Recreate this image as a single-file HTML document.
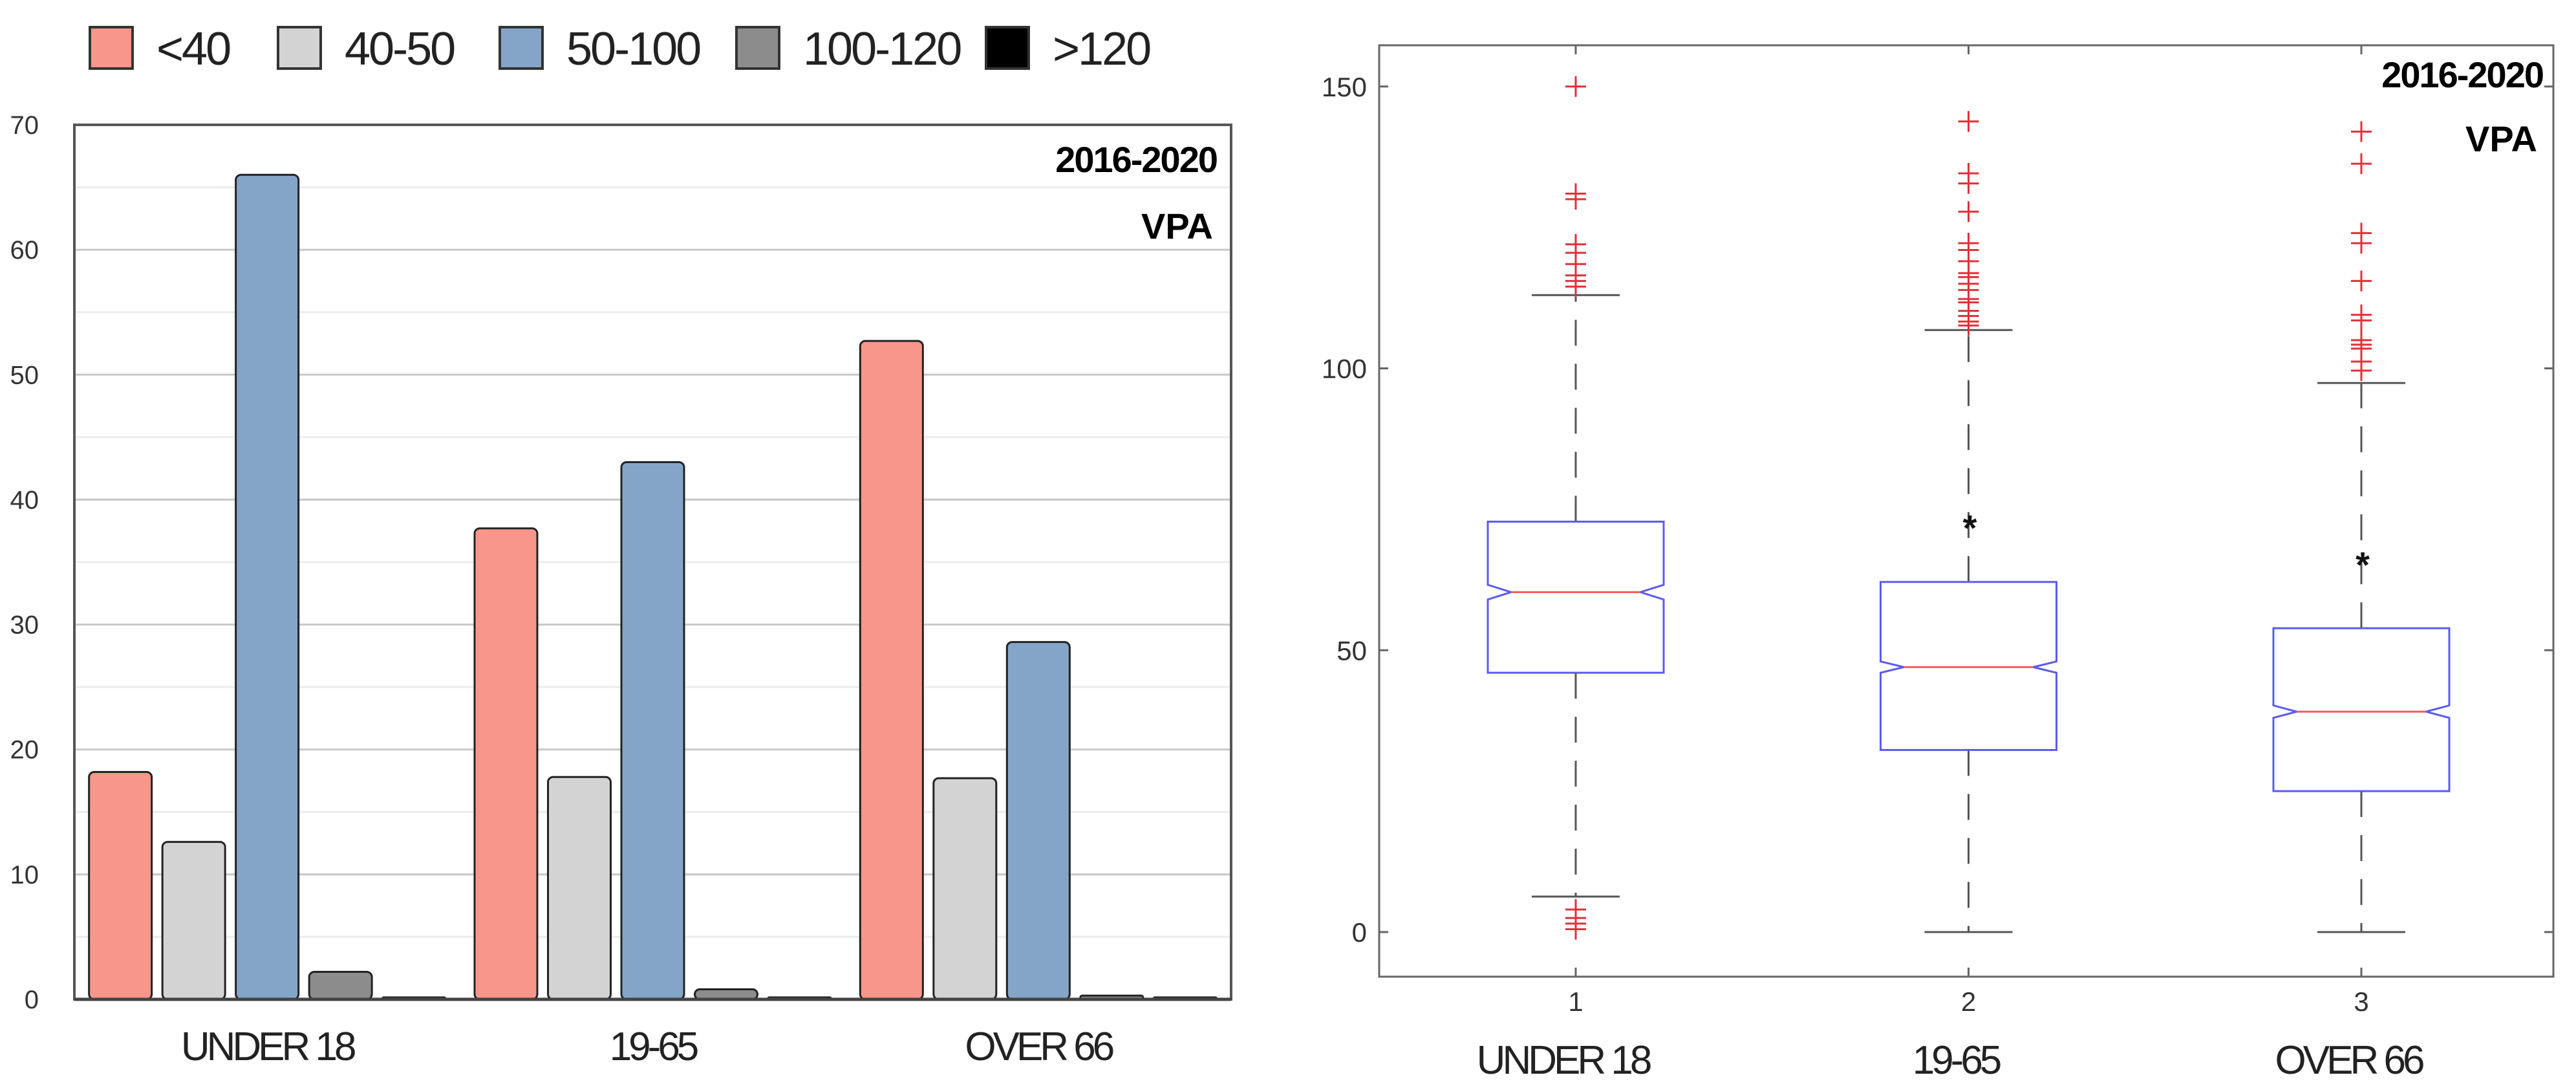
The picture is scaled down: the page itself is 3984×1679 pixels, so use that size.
<!DOCTYPE html>
<html><head><meta charset="utf-8"><style>
html,body{margin:0;padding:0;background:#fff;}
svg{display:block;font-family:"Liberation Sans",sans-serif;}
</style></head><body>
<svg id="fig" width="3984" height="1679" viewBox="0 0 3984 1679" xmlns="http://www.w3.org/2000/svg">
<g id="left"></g>
<g id="right"></g>
</svg>
<script>
// ---- Left chart data ----
const barCategories = ["UNDER 18", "19-65", "OVER 66"];
const seriesNames = ["<40", "40-50", "50-100", "100-120", ">120"];
const seriesLt40 = [18.2, 37.7, 52.7];
const series40to50 = [12.6, 17.8, 17.7];
const series50to100 = [66, 43, 28.6];
const series100to120 = [2.2, 0.8, 0.3];
const seriesGt120 = [0.1, 0.1, 0.1];
const barTicks = [0, 10, 20, 30, 40, 50, 60, 70];

// ---- Right chart data ----
const boxCategories = ["UNDER 18", "19-65", "OVER 66"];
const boxTickLabels = ["1", "2", "3"];
const boxQ1 = [46, 32.3, 25];
const boxMedian = [60.3, 47, 39.1];
const boxQ3 = [72.8, 62.1, 53.9];
const boxWhiskLow = [6.3, 0, 0];
const boxWhiskHigh = [113, 106.8, 97.4];
const boxNotchLow = [59, 46, 38];
const boxNotchHigh = [61.6, 48, 40.2];
const outliers1 = [150, 131, 130, 122, 120.5, 118.5, 116.5, 115.5, 114.5, 4, 2.5, 1.5, 0.5];
const outliers2 = [143.8, 134.6, 132.8, 127.8, 122.2, 121, 119, 116.9, 116.2, 115, 113.9, 112.3, 111.7, 110.2, 109.3, 108.3, 107.6];
const outliers3 = [142, 136.3, 124, 122.2, 115.5, 109.5, 108.5, 105, 104.2, 103.5, 101.2, 99.6];
const starValues = [null, 72.9, 66.4];
const boxTicks = [0, 50, 100, 150];

const NS = "http://www.w3.org/2000/svg";
function mk(parent, tag, attrs, text) {
  const e = document.createElementNS(NS, tag);
  for (const k in attrs) e.setAttribute(k, attrs[k]);
  if (text !== undefined) e.textContent = text;
  parent.appendChild(e);
  return e;
}

// ===== LEFT =====
(function(){
  const g = document.getElementById("left");
  const L = 115, R = 1904, T = 193, B = 1545;
  const yMax = 70;
  const y = v => B - (v / yMax) * (B - T);
  const groupW = (R - L) / 3;
  const barW = 97, step = 113.5;
  const xBar = (gi, si) => L + groupW * gi + groupW / 2 + (si - 2) * step - barW / 2;
  const colors = ["#f8968a", "#d3d3d3", "#84a5c7", "#8c8c8c", "#000000"];
  const allSeries = [seriesLt40, series40to50, series50to100, series100to120, seriesGt120];

  for (let v = 5; v < yMax; v += 5) {
    const gl = mk(g, "line", {x1: L, x2: R, y1: y(v), y2: y(v), stroke: v % 10 === 0 ? "#c8c8c8" : "#ececec", "stroke-width": 3});
    
    
  }
  const fr = mk(g, "rect", {x: L, y: T, width: R - L, height: B - T, fill: "none", stroke: "#555", "stroke-width": 4});
  
  
  barTicks.forEach(v => {
    const t = mk(g, "text", {x: 60, y: y(v) + 14, "text-anchor": "end", "font-size": 40, fill: "#333"}, String(v));
    
    
  });
  allSeries.forEach((ser, si) => {
    ser.forEach((v, gi) => {
      const h = Math.max(B - y(v), 3);
      const r = mk(g, "rect", {x: xBar(gi, si), y: B - h, width: barW, height: h, rx: Math.min(8, h / 2), fill: colors[si], stroke: "#222", "stroke-width": 3});
      
      
    });
  });
  const bl = mk(g, "line", {x1: L, x2: R, y1: B, y2: B, stroke: "#444", "stroke-width": 5});
  
  
  barCategories.forEach((c, gi) => {
    const t = mk(g, "text", {x: L + groupW * gi + groupW / 2, y: 1639, "text-anchor": "middle", "font-size": 62, fill: "#222", "letter-spacing": -5}, c);
    
    
  });
  const a1 = mk(g, "text", {x: 1882, y: 266, "text-anchor": "end", "font-size": 56, "font-weight": "bold", fill: "#000", "letter-spacing": -2}, "2016-2020");
  
  
  const a2 = mk(g, "text", {x: 1876, y: 369, "text-anchor": "end", "font-size": 56, "font-weight": "bold", fill: "#000"}, "VPA");
  
  
  const legBoxX = [139, 430, 773, 1139, 1525];
  seriesNames.forEach((n, i) => {
    const b = mk(g, "rect", {x: legBoxX[i], y: 42, width: 66, height: 64, fill: colors[i], stroke: "#333", "stroke-width": 4});
    
    
    const t = mk(g, "text", {x: legBoxX[i] + 103, y: 100, "font-size": 72, fill: "#222", "letter-spacing": -3}, n);
    
    
  });
})();

// ===== RIGHT =====
(function(){
  const g = document.getElementById("right");
  const L = 2133, R = 3949, T = 70, B = 1510;
  const y = v => 1441 - v * 8.715;
  const x = i => 2437 + (i - 1) * 607.5;
  const hw = 136, capHw = 68, notchIn = 36;

  const fr = mk(g, "rect", {x: L, y: T, width: R - L, height: B - T, fill: "none", stroke: "#666", "stroke-width": 3});
  
  

  boxTicks.forEach(v => {
    const tl = mk(g, "line", {x1: L, x2: L + 14, y1: y(v), y2: y(v), stroke: "#666", "stroke-width": 3});
    
    
    const tr = mk(g, "line", {x1: R - 14, x2: R, y1: y(v), y2: y(v), stroke: "#666", "stroke-width": 3});
    
    
    const t = mk(g, "text", {x: 2114, y: y(v) + 15, "text-anchor": "end", "font-size": 42, fill: "#333"}, String(v));
    
    
  });

  boxTickLabels.forEach((lab, i) => {
    const xi = x(i + 1);
    const tt = mk(g, "line", {x1: xi, x2: xi, y1: T, y2: T + 14, stroke: "#666", "stroke-width": 3});
    
    
    const tb = mk(g, "line", {x1: xi, x2: xi, y1: B - 14, y2: B, stroke: "#666", "stroke-width": 3});
    
    
    const t = mk(g, "text", {x: xi, y: 1563, "text-anchor": "middle", "font-size": 42, fill: "#333"}, lab);
    
    
    const c = mk(g, "text", {x: xi - 20, y: 1660, "text-anchor": "middle", "font-size": 62, fill: "#222", "letter-spacing": -5}, boxCategories[i]);
    
    
  });

  const outs = [outliers1, outliers2, outliers3];
  for (let i = 0; i < 3; i++) {
    const xi = x(i + 1);
    const w1 = mk(g, "line", {x1: xi, x2: xi, y1: y(boxQ3[i]), y2: y(boxWhiskHigh[i]), stroke: "#555", "stroke-width": 3, "stroke-dasharray": "40 28"});
    
    
    const w2 = mk(g, "line", {x1: xi, x2: xi, y1: y(boxQ1[i]), y2: y(boxWhiskLow[i]), stroke: "#555", "stroke-width": 3, "stroke-dasharray": "40 28"});
    
    
    const c1 = mk(g, "line", {x1: xi - capHw, x2: xi + capHw, y1: y(boxWhiskHigh[i]), y2: y(boxWhiskHigh[i]), stroke: "#555", "stroke-width": 3});
    
    
    const c2 = mk(g, "line", {x1: xi - capHw, x2: xi + capHw, y1: y(boxWhiskLow[i]), y2: y(boxWhiskLow[i]), stroke: "#555", "stroke-width": 3});
    
    
    const l = xi - hw, r = xi + hw;
    const pts = [
      [l, y(boxQ3[i])], [r, y(boxQ3[i])], [r, y(boxNotchHigh[i])], [r - notchIn, y(boxMedian[i])],
      [r, y(boxNotchLow[i])], [r, y(boxQ1[i])], [l, y(boxQ1[i])], [l, y(boxNotchLow[i])],
      [l + notchIn, y(boxMedian[i])], [l, y(boxNotchHigh[i])]
    ].map(p => p.join(",")).join(" ");
    const bx = mk(g, "polygon", {points: pts, fill: "#fff", stroke: "#5b5bf0", "stroke-width": 3});
    
    
    const md = mk(g, "line", {x1: l + notchIn, x2: r - notchIn, y1: y(boxMedian[i]), y2: y(boxMedian[i]), stroke: "#f06060", "stroke-width": 3});
    
    
    outs[i].forEach(v => {
      const o = mk(g, "path", {d: `M${xi - 16},${y(v)}H${xi + 16}M${xi},${y(v) - 16}V${y(v) + 16}`, stroke: "#e0303a", "stroke-width": 3, fill: "none"});
      
      
    });
    if (starValues[i] !== null) {
      const s = mk(g, "text", {x: xi + 2, y: y(starValues[i]) + 30, "text-anchor": "middle", "font-size": 56, "font-weight": "bold", fill: "#111"}, "*");
      
      
    }
  }

  const a1 = mk(g, "text", {x: 3933, y: 135, "text-anchor": "end", "font-size": 56, "font-weight": "bold", fill: "#000", "letter-spacing": -2}, "2016-2020");
  
  
  const a2 = mk(g, "text", {x: 3924, y: 234, "text-anchor": "end", "font-size": 56, "font-weight": "bold", fill: "#000"}, "VPA");
  
  
})();
</script>
</body></html>
